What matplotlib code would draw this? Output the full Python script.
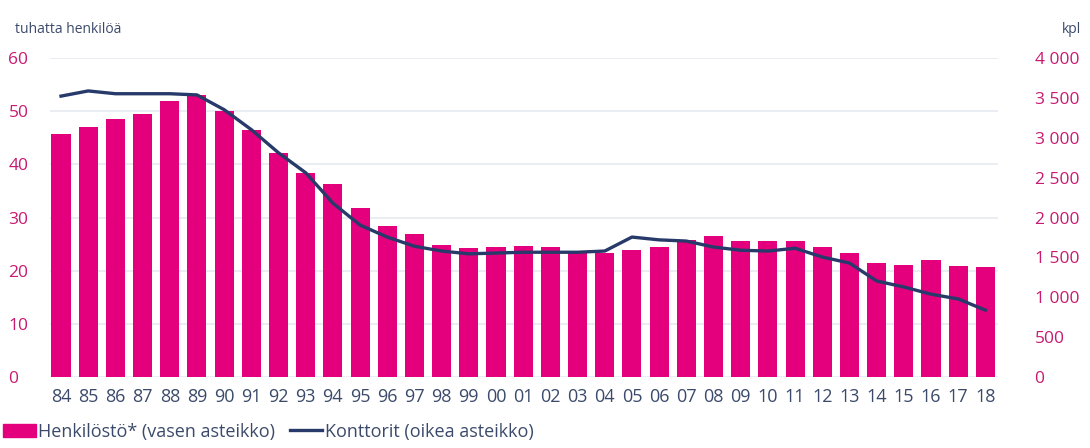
import matplotlib.pyplot as plt
from matplotlib.patches import Patch
from matplotlib.lines import Line2D

plt.rcParams['font.family'] = ['Open Sans', 'DejaVu Sans']

# vuodet 1984-2018
years = ['84', '85', '86', '87', '88', '89', '90', '91', '92', '93', '94', '95',
         '96', '97', '98', '99', '00', '01', '02', '03', '04', '05', '06', '07',
         '08', '09', '10', '11', '12', '13', '14', '15', '16', '17', '18']
# henkilöstö, tuhatta henkilöä (vasen asteikko)
staff = [45.7, 47.0, 48.5, 49.4, 51.9, 53.0, 50.0, 46.4, 42.1, 38.3, 36.2, 31.8,
         28.4, 26.9, 24.8, 24.2, 24.4, 24.6, 24.4, 23.5, 23.3, 23.9, 24.4, 25.7,
         26.5, 25.6, 25.6, 25.6, 24.4, 23.3, 21.4, 21.1, 22.0, 20.9, 20.7]
# konttorit, kpl (oikea asteikko)
offices = [3520, 3585, 3550, 3550, 3550, 3535, 3350, 3100, 2810, 2560, 2180, 1905,
           1755, 1640, 1580, 1545, 1555, 1565, 1565, 1565, 1580, 1755, 1720, 1705,
           1630, 1590, 1580, 1615, 1505, 1430, 1205, 1130, 1040, 980, 840]

pink = '#e4007c'
navy = '#273a6a'
tick_pink = '#c81a70'
text_blue = '#3b4a6b'
grid_col = '#e6eaf0'

fig = plt.figure(figsize=(10.9, 4.48), dpi=100)
ax = fig.add_axes([0.046, 0.158, 0.87, 0.713])
ax2 = ax.twinx()

x = list(range(len(years)))
ax.bar(x, staff, width=0.7, color=pink, zorder=2)
ax2.plot(x, offices, color=navy, linewidth=2.4, zorder=3)

ax.set_ylim(0, 60)
ax.set_yticks(range(0, 61, 10))
ax2.set_ylim(0, 4000)
ax2.set_yticks(range(0, 4001, 500))
ax2.set_yticklabels(['{:,}'.format(v).replace(',', ' ') for v in range(0, 4001, 500)])
ax.set_xlim(-0.4, 34.48)
ax.set_xticks(x)
ax.set_xticklabels(years)

ax.grid(axis='y', color=grid_col, linewidth=1.2, zorder=0)
ax.set_axisbelow(True)
for a in (ax, ax2):
    for s in a.spines.values():
        s.set_visible(False)
# vasemman asteikon luvut tasattu vasempaan reunaan
ax.tick_params(axis='y', length=0, pad=30, labelsize=12.5, labelcolor=tick_pink)
for lbl in ax.get_yticklabels():
    lbl.set_horizontalalignment('left')
ax.tick_params(axis='x', length=0, pad=8, labelsize=13, labelcolor=text_blue)
ax2.tick_params(axis='y', length=0, pad=26, labelsize=12.5, labelcolor=tick_pink)

fig.text(0.014, 0.935, 'tuhatta henkilöä', fontsize=10, color=text_blue, va='center')
fig.text(0.992, 0.935, 'kpl', fontsize=10, color=text_blue, va='center', ha='right')

handles = [Patch(color=pink), Line2D([0], [0], color=navy, linewidth=2.4)]
fig.legend(handles, ['Henkilöstö* (vasen asteikko)', 'Konttorit (oikea asteikko)'],
           loc='lower left', bbox_to_anchor=(-0.012, -0.02), ncol=2, frameon=False,
           fontsize=13, labelcolor=text_blue, handlelength=1.8, handletextpad=0.15,
           columnspacing=0.8)

fig.savefig('out.png', dpi=100)
